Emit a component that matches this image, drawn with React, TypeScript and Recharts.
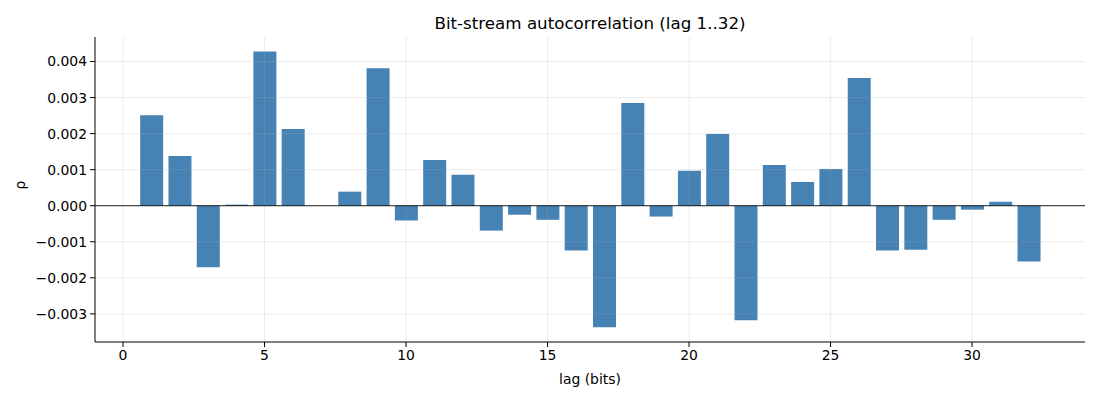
import React from 'react';
import {
  BarChart, Bar, XAxis, YAxis, ReferenceLine,
} from 'recharts';

// lag 1..32 autocorrelation values
const lags = [
  1, 2, 3, 4, 5, 6, 7, 8, 9, 10, 11, 12, 13, 14, 15, 16,
  17, 18, 19, 20, 21, 22, 23, 24, 25, 26, 27, 28, 29, 30, 31, 32,
];
const rho = [
  0.00251, 0.00138, -0.00171, 0.00003, 0.00428, 0.00213, 0.0, 0.00039,
  0.00381, -0.00041, 0.00127, 0.00086, -0.00069, -0.00025, -0.00039, -0.00124,
  -0.00337, 0.00285, -0.0003, 0.00097, 0.00199, -0.00318, 0.00113, 0.00066,
  0.00102, 0.00354, -0.00124, -0.00122, -0.00039, -0.00011, 0.00011, -0.00155,
];
const xTicks = [0, 5, 10, 15, 20, 25, 30];
const yTicks = [-0.003, -0.002, -0.001, 0, 0.001, 0.002, 0.003, 0.004];

const data = lags.map((lag, i) => ({ lag, rho: rho[i] }));

const FONT = '"DejaVu Sans", sans-serif';
const tickStyle = { fontSize: 13.9, fill: '#000', fontFamily: FONT };
const GRID = { stroke: '#b0b0b0', strokeOpacity: 0.3, strokeWidth: 0.8 };

const fmtY = (v: number) => v.toFixed(3).replace('-', '\u2212');

export default function App() {
  return (
    <div style={{ position: 'absolute', left: 0, top: 0, width: 1100, height: 400, background: '#fff' }}>
      <div
        style={{
          position: 'absolute', left: 95, width: 990, top: 13, textAlign: 'center',
          fontFamily: FONT, fontSize: 16.7, color: '#000',
        }}
      >
        Bit-stream autocorrelation (lag 1..32)
      </div>
      <BarChart
        width={1100}
        height={400}
        data={data}
        margin={{ top: 37, right: 15, bottom: 0, left: 0 }}
      >
        <XAxis
          dataKey="lag"
          type="number"
          domain={[-0.99, 33.99]}
          ticks={xTicks}
          allowDataOverflow
          height={58}
          tick={tickStyle}
          tickSize={5}
          tickMargin={3}
          stroke="#000"
          label={{ value: 'lag (bits)', position: 'insideBottom', offset: 16, style: tickStyle }}
        />
        <YAxis
          type="number"
          domain={[-0.00378, 0.00468]}
          ticks={yTicks}
          allowDataOverflow
          width={95}
          tick={tickStyle}
          tickSize={5}
          tickMargin={3}
          tickFormatter={fmtY}
          stroke="#000"
          label={{ value: '\u03c1', angle: -90, position: 'insideLeft', offset: 20, style: tickStyle }}
        />
        <Bar dataKey="rho" fill="#4682b4" barSize={23} isAnimationActive={false} />
        {xTicks.map((t) => (
          <ReferenceLine key={`vx${t}`} x={t} {...GRID} />
        ))}
        {yTicks.filter((t) => t !== 0).map((t) => (
          <ReferenceLine key={`hy${t}`} y={t} {...GRID} />
        ))}
        <ReferenceLine y={0} stroke="#000" strokeWidth={0.9} />
      </BarChart>
    </div>
  );
}
